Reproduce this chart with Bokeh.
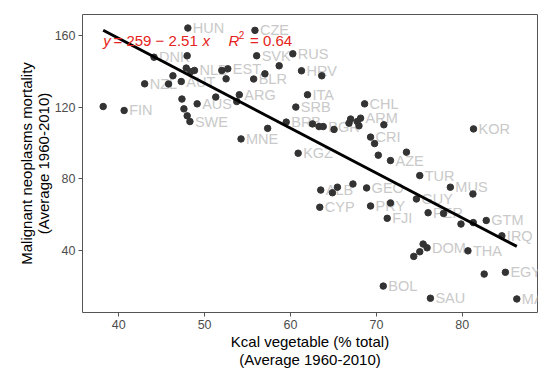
from bokeh.plotting import figure
from bokeh.models import Range1d, FixedTicker, Label, ColumnDataSource
from bokeh.core.properties import value
from bokeh.embed import file_html
from bokeh.resources import INLINE

kcal_veg = [38.19, 40.63, 43.02, 44.11, 45.80, 46.31, 47.28, 47.36, 47.59, 47.97,
            48.29, 48.05, 47.97, 47.86, 48.38, 48.82, 49.13, 51.30, 52.00, 52.70,
            52.50, 53.74, 54.04, 54.24, 55.71, 55.86, 56.06, 57.02, 57.34, 58.68,
            59.50, 60.27, 60.62, 60.89, 61.28, 61.98, 62.56, 63.32, 63.81, 63.64,
            65.07, 63.52, 64.88, 65.46, 63.41, 67.27, 66.81, 67.00, 67.78, 68.16,
            67.97, 68.63, 69.32, 69.79, 70.22, 70.87, 71.64, 73.50, 68.86, 69.32,
            71.64, 71.26, 70.80, 74.66, 75.05, 76.02, 77.82, 74.35, 75.05, 75.90,
            75.44, 76.29, 78.61, 79.85, 81.24, 81.28, 81.31, 80.66, 82.79, 82.55,
            84.61, 85.02, 86.35]
mortality = [120.5, 118.3, 133.2, 148.1, 133.1, 137.7, 134.5, 124.7, 119.2, 115.3,
             112.1, 164.4, 148.9, 142.0, 140.0, 140.7, 122.0, 125.8, 140.7, 141.6,
             136.0, 123.3, 127.1, 102.4, 135.9, 163.1, 148.9, 138.8, 108.3, 143.3,
             111.8, 150.0, 120.2, 94.4, 140.5, 127.1, 110.8, 109.3, 109.3, 137.7,
             107.7, 73.8, 72.3, 75.4, 64.2, 77.2, 111.2, 113.5, 112.1, 114.0,
             109.7, 122.0, 103.4, 99.8, 93.3, 110.3, 90.3, 95.0, 75.0, 64.9,
             66.6, 58.0, 20.1, 68.8, 81.9, 61.1, 60.7, 36.7, 39.3, 41.5,
             43.6, 13.3, 75.4, 54.8, 71.6, 55.6, 108.0, 39.8, 56.8, 26.8,
             48.2, 27.8, 12.9]
country = ["", "FIN", "NZL", "DNK", "", "", "AUT", "", "", "",
           "SWE", "HUN", "", "", "", "NLD", "AUS", "", "", "EST",
           "", "", "ARG", "MNE", "BLR", "CZE", "SVK", "", "", "",
           "BRB", "RUS", "SRB", "KGZ", "HRV", "ITA", "", "", "BGR", "",
           "", "ALB", "", "", "CYP", "", "", "", "", "ARM",
           "", "CHL", "CRI", "", "", "", "AZE", "", "GEO", "PRY",
           "", "FJI", "BOL", "GUY", "TUR", "PER", "", "", "", "DOM",
           "", "SAU", "MUS", "", "", "", "KOR", "THA", "GTM", "",
           "IRQ", "EGY", "MAR"]

fit_intercept = 259
fit_slope = -2.51
fit_r2 = 0.64

x_ticks = [40, 50, 60, 70, 80]
y_ticks = [40, 80, 120, 160]

x_title = "Kcal vegetable (% total)\n(Average 1960-2010)"
y_title = "Malignant neoplasms mortality\n(Average 1960-2010)"

FONT = "Liberation Sans"

W, H = 550, 374
BL, BR, BT, BB = 82, 13, 14, 62
FW, FH = W - BL - BR, H - BT - BB

xmin, xmax = min(kcal_veg), max(kcal_veg)
ymin, ymax = min(mortality), max(mortality)
xr = xmax - xmin
yr = ymax - ymin
x0, x1 = xmin - 0.05 * xr, xmax + 0.05 * xr
y0, y1 = ymin - 0.05 * yr, ymax + 0.05 * yr
ppx = FW / (x1 - x0)   # pixels per x unit
ppy = FH / (y1 - y0)   # pixels per y unit

p = figure(width=W, height=H, output_backend="svg", toolbar_location=None,
           x_range=Range1d(x0, x1), y_range=Range1d(y0, y1),
           min_border_left=BL, min_border_right=BR, min_border_top=BT,
           min_border_bottom=BB)
p.background_fill_color = "white"
p.border_fill_color = "white"
p.outline_line_color = "#555555"
p.outline_line_width = 1
p.grid.visible = False

src = ColumnDataSource(dict(x=kcal_veg, y=mortality, label=country))

p.text(x="x", y="y", text="label", source=src, x_offset=5,
       text_align="left", text_baseline="middle",
       text_color="#c9c9c9", text_font_size="14.5px",
       text_font=value(FONT))

p.scatter(x="x", y="y", source=src, size=6.5, fill_color="#333333",
          line_color="#333333")

fx = [xmin, xmax]
fy = [fit_intercept + fit_slope * v for v in fx]
p.line(fx, fy, line_color="black", line_width=3)

# equation annotation (positions relative to frame, in pixels)
red = "#e52421"
eq_top_px = 25.5
eq_y = y1 - eq_top_px / ppy
def xpx(px):
    return x0 + px / ppx
parts = [
    (20.7, "y", "italic", "15px", 0),
    (31.0, "= %d \u2212 %.2f" % (fit_intercept, -fit_slope), "normal", "15px", 0),
    (120.0, "x", "italic", "15px", 0),
    (146.0, "R", "italic", "15px", 0),
    (156.3, "2", "normal", "10px", 5.5),
    (167.5, "= %.2f" % fit_r2, "normal", "15px", 0),
]
for (lx, txt, style, size, up) in parts:
    p.add_layout(Label(x=xpx(lx), y=eq_y + up / ppy, text=txt, text_color=red,
                       text_font=FONT, text_font_style=style,
                       text_font_size=size, text_align="left",
                       text_baseline="middle"))

p.xaxis.ticker = FixedTicker(ticks=x_ticks)
p.yaxis.ticker = FixedTicker(ticks=y_ticks)
p.axis.axis_line_color = None
p.axis.major_tick_line_color = "#555555"
p.axis.major_tick_out = 4
p.axis.major_tick_in = 0
p.axis.minor_tick_line_color = None
p.axis.major_label_text_color = "#4d4d4d"
p.axis.major_label_text_font = FONT
p.axis.major_label_text_font_size = "12.5px"
p.axis.major_label_standoff = 3
p.axis.axis_label_text_font = FONT
p.axis.axis_label_text_font_size = "15px"
p.axis.axis_label_text_font_style = "normal"
p.axis.axis_label_text_color = "black"
p.xaxis.axis_label_text_line_height = 1.08
p.yaxis.axis_label_text_line_height = 1.0
p.xaxis.axis_label = x_title
p.yaxis.axis_label = y_title
p.xaxis.axis_label_standoff = 1
p.yaxis.axis_label_standoff = 0

open("out.html", "w").write(file_html(p, INLINE))
